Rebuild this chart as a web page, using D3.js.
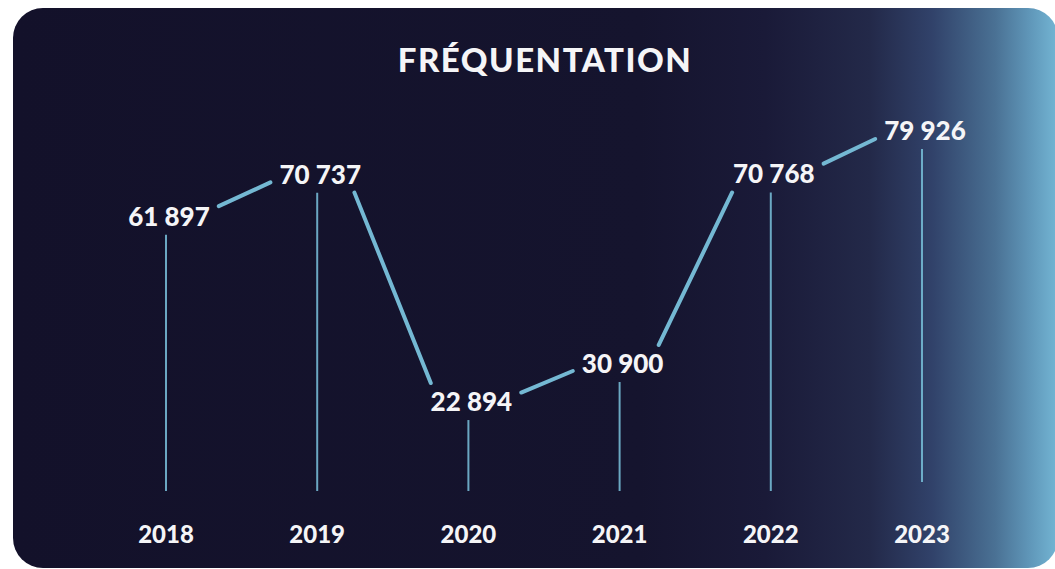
<!DOCTYPE html>
<html>
<head>
<meta charset="utf-8">
<script src="https://cdn.jsdelivr.net/npm/d3@7"></script>
<style>
  html, body { margin: 0; padding: 0; background: #ffffff; }
  svg { display: block; }
</style>
</head>
<body>
<script>
'use strict';

// chart data
const years = ["2018", "2019", "2020", "2021", "2022", "2023"];
const visitors = [61897, 70737, 22894, 30900, 70768, 79926];
const valueLabels = ["61 897", "70 737", "22 894", "30 900", "70 768", "79 926"];
const chartTitle = "FRÉQUENTATION";

(function () {
  let svgContainer = "";

  const width = 1055;
  const height = 569;
  const lineColor = "#74b8d3";
  const textColor = "#f5f5f7";
  const pad = 9; // gap between a label and the lines around it

  window.onload = function () {
    svgContainer = d3.select('body')
      .append('svg')
      .attr('width', width)
      .attr('height', height);

    drawCard();
    drawChart();
  }

  // dark card with blue glow on the right
  function drawCard() {
    let grad = svgContainer.append('defs')
      .append('linearGradient')
      .attr('id', 'cardGrad')
      .attr('x1', 0).attr('y1', 0)
      .attr('x2', 1).attr('y2', 0);

    let stops = [
      [0, "#13112a"], [0.6, "#15142e"], [0.72, "#1a1a38"], [0.82, "#232949"],
      [0.88, "#31426a"], [0.94, "#4a7194"], [0.975, "#6199bb"], [1, "#74b6d4"]
    ];
    grad.selectAll('stop')
      .data(stops)
      .enter()
      .append('stop')
      .attr('offset', (d) => d[0])
      .attr('stop-color', (d) => d[1]);

    svgContainer.append('rect')
      .attr('x', 13)
      .attr('y', 8)
      .attr('width', 1045)
      .attr('height', 560)
      .attr('rx', 30)
      .attr('fill', 'url(#cardGrad)');
  }

  function drawChart() {
    let xScale = d3.scalePoint()
      .domain(years)
      .range([166, 922]);

    let yScale = d3.scaleLinear()
      .domain([20000, 80000])
      .range([415.8, 130.6]);

    let points = years.map((y, i) => ({
      year: y,
      value: visitors[i],
      label: valueLabels[i],
      x: xScale(y),
      y: yScale(visitors[i])
    }));

    // title
    svgContainer.append('text')
      .attr('x', 545)
      .attr('y', 72)
      .attr('text-anchor', 'middle')
      .style('font-family', 'Lato, sans-serif')
      .style('font-weight', 900)
      .style('font-size', '33px')
      .style('letter-spacing', '1.5px')
      .attr('fill', textColor)
      .text(chartTitle);

    // value labels, centred on each point
    let labels = svgContainer.selectAll('.value')
      .data(points)
      .enter()
      .append('text')
      .attr('class', 'value')
      .attr('x', (d) => d.x + 3)
      .attr('y', (d) => d.y + 9)
      .attr('text-anchor', 'middle')
      .style('font-family', 'Lato, sans-serif')
      .style('font-weight', 900)
      .style('font-size', '26px')
      .attr('fill', textColor)
      .text((d) => d.label);

    // bounding boxes of the labels, padded
    labels.each(function (d) {
      let b = this.getBBox();
      // tighten to the digit glyphs (cap height) rather than the full line box
      let top = d.y + 9 - 19;
      let bottom = d.y + 9;
      d.box = { x0: b.x - pad, x1: b.x + b.width + pad, y0: top - pad, y1: bottom + pad };
    });

    // vertical stems from label down to the year
    svgContainer.selectAll('.stem')
      .data(points)
      .enter()
      .append('line')
      .attr('class', 'stem')
      .attr('x1', (d) => d.x)
      .attr('x2', (d) => d.x)
      .attr('y1', (d) => d.box.y1)
      .attr('y2', (d, i) => i === points.length - 1 ? 482 : 491)
      .attr('stroke', lineColor)
      .attr('stroke-opacity', 0.9)
      .attr('stroke-width', 2);

    // connectors between neighbouring labels, cut where they meet a label
    let segments = d3.pairs(points).map(([a, b]) => {
      let ax = a.x + 30, ay = a.y;
      let bx = b.x - 30, by = b.y;
      let dx = bx - ax, dy = by - ay;
      let t0 = exitT(ax, ay, dx, dy, a.box);
      let t1 = 1 - exitT(bx, by, -dx, -dy, b.box);
      return {
        x1: ax + dx * t0, y1: ay + dy * t0,
        x2: ax + dx * t1, y2: ay + dy * t1
      };
    });

    svgContainer.selectAll('.link')
      .data(segments)
      .enter()
      .append('line')
      .attr('class', 'link')
      .attr('x1', (d) => d.x1)
      .attr('y1', (d) => d.y1)
      .attr('x2', (d) => d.x2)
      .attr('y2', (d) => d.y2)
      .attr('stroke', lineColor)
      .attr('stroke-width', 4)
      .attr('stroke-linecap', 'round');

    // year labels
    svgContainer.selectAll('.year')
      .data(points)
      .enter()
      .append('text')
      .attr('class', 'year')
      .attr('x', (d) => d.x)
      .attr('y', 543)
      .attr('text-anchor', 'middle')
      .style('font-family', 'Lato, sans-serif')
      .style('font-weight', 900)
      .style('font-size', '24px')
      .attr('fill', textColor)
      .text((d) => d.year);
  }

  // parameter t where a ray from (x, y) along (dx, dy) leaves the box
  function exitT(x, y, dx, dy, box) {
    let tx = dx > 0 ? (box.x1 - x) / dx : (dx < 0 ? (box.x0 - x) / dx : Infinity);
    let ty = dy > 0 ? (box.y1 - y) / dy : (dy < 0 ? (box.y0 - y) / dy : Infinity);
    return Math.max(0, Math.min(tx, ty));
  }

})();
</script>
</body>
</html>
